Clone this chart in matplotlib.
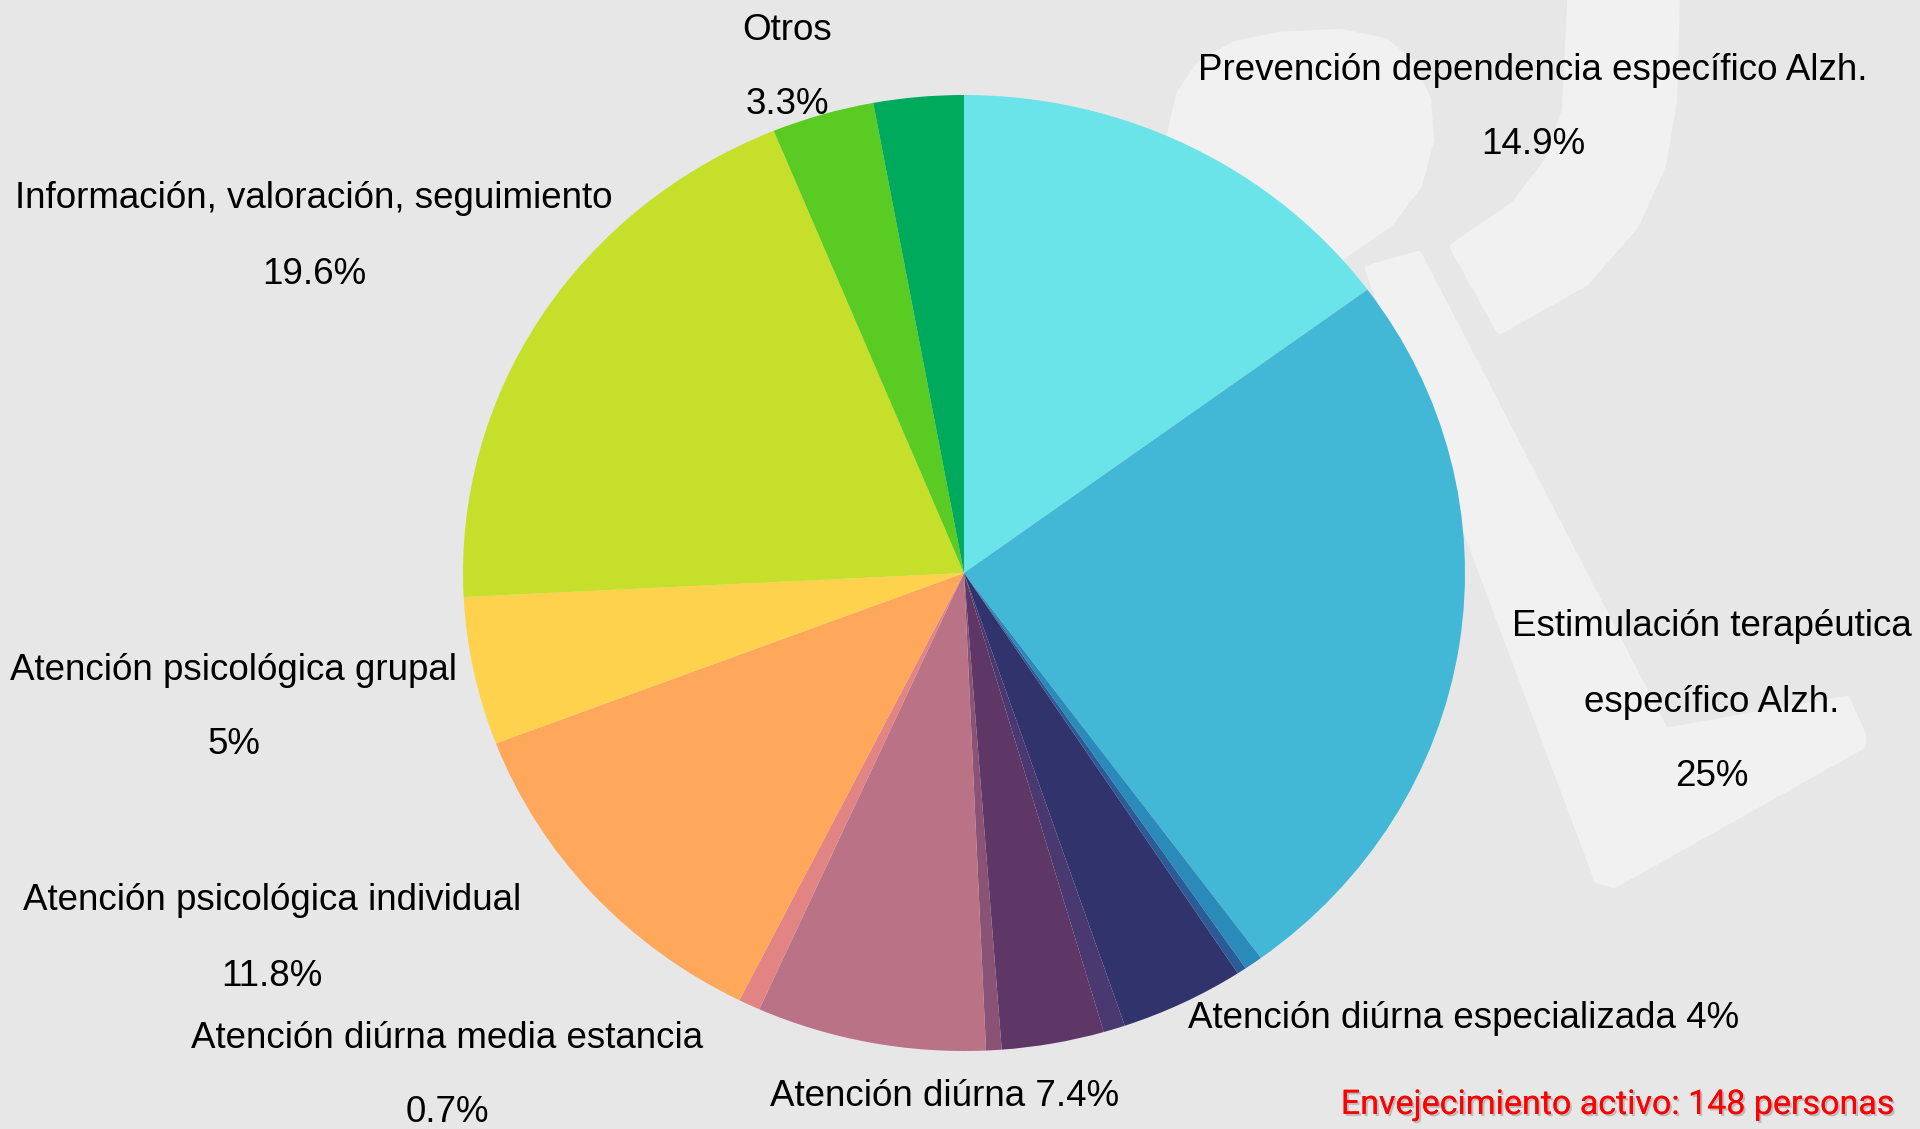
import numpy as np
import matplotlib
matplotlib.use("Agg")
import matplotlib.pyplot as plt
from matplotlib.patches import Polygon
import matplotlib.patheffects as pe

# slices, clockwise from 12 o'clock
categories = [
    "Prevención dependencia específico Alzh.",
    "Estimulación terapéutica\nespecífico Alzh.",
    "(sin etiqueta 1)",
    "(sin etiqueta 2)",
    "Atención diúrna especializada",
    "(sin etiqueta 3)",
    "(sin etiqueta 4)",
    "(sin etiqueta 5)",
    "Atención diúrna",
    "Atención diúrna media estancia",
    "Atención psicológica individual",
    "Atención psicológica grupal",
    "Información, valoración, seguimiento",
    "Otros",
    "(sin etiqueta 6)",
]
percent = [14.9, 25, 0.6, 0.3, 4, 0.7, 3.3, 0.5, 7.4, 0.7, 11.8, 5, 19.6, 3.3, 2.9]
colors = ["#6ae4e8", "#42b8d6", "#2a8aba", "#2c5c98", "#31346c", "#4a3870",
          "#5e3766", "#8a5274", "#ba7286", "#e28484", "#ffa75a", "#ffd24e",
          "#c6df2a", "#5acb22", "#00aa5c"]

total_txt = "Envejecimiento activo: 148 personas"

# label layout in pixels (x centre, y centre of first line, label and % on one line?)
label_pos = {
    0: (1533, 70, False),
    1: (1712, 627, False),
    4: (1464, 1019, True),
    8: (945, 1097, True),
    9: (447, 1038, False),
    10: (272, 901, False),
    11: (234, 670, False),
    12: (314, 199, False),
    13: (787, 30, False),
}

W, H = 1920, 1129
fig = plt.figure(figsize=(W / 100, H / 100), dpi=100)
fig.patch.set_facecolor("#e7e7e7")

# background axes in pixel coords for the faint watermark logo
bg = fig.add_axes([0, 0, 1, 1])
bg.set_xlim(0, W)
bg.set_ylim(H, 0)
bg.axis("off")
wm = dict(facecolor="#f1f1f1", edgecolor="#f1f1f1", linewidth=6,
          joinstyle="round")
lobe = [(1171, 135), (1180, 95), (1200, 65), (1235, 45), (1280, 36),
        (1340, 33), (1385, 42), (1412, 65), (1427, 100), (1430, 140),
        (1418, 185), (1390, 222), (1343, 255), (1320, 275), (1250, 300),
        (1150, 200)]
stroke = [(1676, -10), (1673, 100), (1662, 165), (1635, 225), (1585, 282),
          (1500, 330), (1454, 247), (1515, 205), (1548, 162), (1566, 110),
          (1572, -10)]
bar = [(1369, 269), (1418, 255), (1665, 732), (1846, 700), (1862, 735),
       (1862, 745), (1614, 884), (1598, 879)]
for shape in (lobe, stroke, bar):
    bg.add_patch(Polygon(np.array(shape), **wm))

# pie axes, slightly wider than tall like the reference
cx, cy, rx, ry = 964, 573, 501, 478
ax = fig.add_axes([(cx - rx) / W, (H - cy - ry) / H, 2 * rx / W, 2 * ry / H])
ax.pie(percent, colors=colors, startangle=90, counterclock=False, radius=1,
       wedgeprops=dict(linewidth=0, antialiased=True))
ax.set_aspect("auto")
ax.set_xlim(-1, 1)
ax.set_ylim(-1, 1)
ax.axis("off")

fs = 26.5
font = ["Liberation Sans", "DejaVu Sans"]
line_gap = 75


def put(x, y, txt, **kw):
    fig.text(x / W, 1 - y / H, txt, ha="center", va="center",
             fontsize=fs, family=font, color="black", **kw)


for i, (x, y, inline) in label_pos.items():
    pct = f"{percent[i]:g}%"
    if inline:
        put(x, y, f"{categories[i]} {pct}")
    else:
        lines = categories[i].split("\n")
        for k, ln in enumerate(lines):
            put(x, y + k * line_gap, ln)
        put(x, y + len(lines) * line_gap, pct)

fig.text(1894 / W, 1 - 1105 / H, total_txt, ha="right", va="center",
         fontsize=24.5, family=["Roboto", "DejaVu Sans"], fontweight="normal",
         color="#ff0000",
         path_effects=[pe.withSimplePatchShadow(offset=(1.5, -1.5),
                                                shadow_rgbFace="#888888",
                                                alpha=0.45),
                       pe.Normal()])

fig.savefig("out.png", dpi=100, facecolor=fig.get_facecolor())
